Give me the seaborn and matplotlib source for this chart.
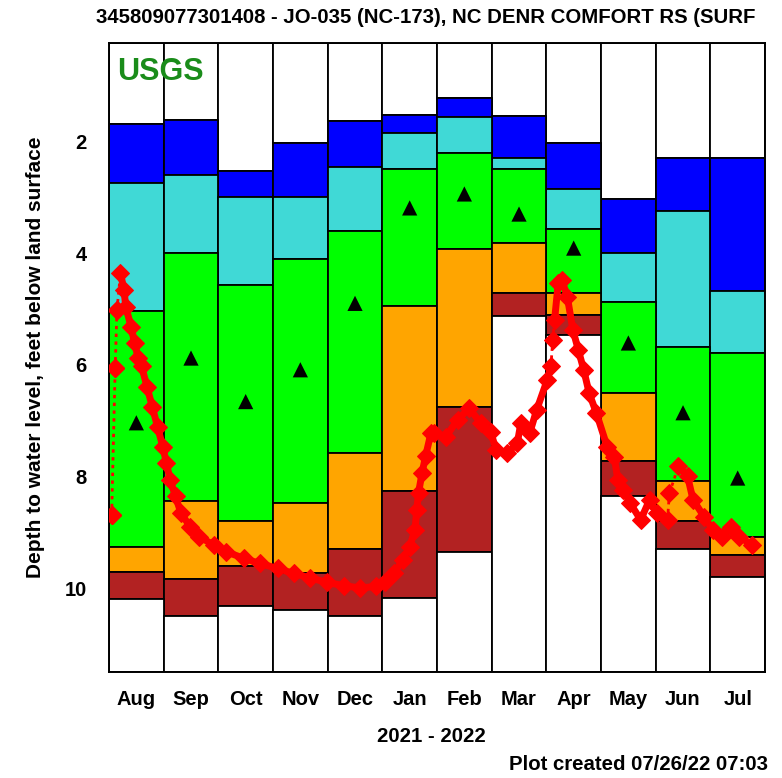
import numpy as np
import pandas as pd
import seaborn as sns
import matplotlib.pyplot as plt

months = ['Aug', 'Sep', 'Oct', 'Nov', 'Dec', 'Jan', 'Feb', 'Mar', 'Apr', 'May', 'Jun', 'Jul']

# monthly percentile bounds, feet below land surface
p_max = [1.69, 1.62, 2.52, 2.02, 1.63, 1.53, 1.22, 1.55, 2.02, 3.03, 2.30, 2.30]
p90 = [2.75, 2.60, 2.99, 2.99, 2.46, 1.85, 1.56, 2.30, 2.85, 4.00, 3.25, 4.67]
p75 = [5.03, 4.00, 4.57, 4.11, 3.61, 2.50, 2.21, 2.49, 3.57, 4.87, 5.68, 5.79]
p25 = [9.27, 8.45, 8.80, 8.48, 7.58, 4.94, 3.93, 3.82, 4.72, 6.51, 8.09, 9.09]
p10 = [9.71, 9.84, 9.60, 9.73, 9.30, 8.26, 6.76, 4.72, 5.11, 7.72, 8.80, 9.41]
p_min = [10.20, 10.50, 10.32, 10.39, 10.50, 10.18, 9.35, 5.12, 5.47, 8.35, 9.30, 9.81]
median = [7.04, 5.88, 6.66, 6.09, 4.90, 3.19, 2.94, 3.30, 3.91, 5.61, 6.86, 8.03]

# daily water levels
wl_dates = ['2021-08-02', '2021-08-04', '2021-08-05', '2021-08-07', '2021-08-09', '2021-08-10',
            '2021-08-13', '2021-08-15', '2021-08-17', '2021-08-19', '2021-08-22', '2021-08-25',
            '2021-08-28', '2021-08-31', '2021-09-02', '2021-09-04', '2021-09-07', '2021-09-10',
            '2021-09-15', '2021-09-20', '2021-09-28', '2021-10-05', '2021-10-15', '2021-10-24',
            '2021-11-03', '2021-11-12', '2021-11-21', '2021-11-30', '2021-12-10', '2021-12-19',
            '2021-12-28', '2022-01-02', '2022-01-07', '2022-01-12', '2022-01-16', '2022-01-19',
            '2022-01-20', '2022-01-21', '2022-01-23', '2022-01-25', '2022-01-28', '2022-01-30',
            '2022-02-05', '2022-02-11', '2022-02-17', '2022-02-23', '2022-02-28', '2022-03-03',
            '2022-03-09', '2022-03-15', '2022-03-17', '2022-03-22', '2022-03-26', '2022-04-01',
            '2022-04-03', '2022-04-04', '2022-04-05', '2022-04-07', '2022-04-09', '2022-04-12',
            '2022-04-15', '2022-04-18', '2022-04-21', '2022-04-24', '2022-04-28', '2022-05-04',
            '2022-05-08', '2022-05-10', '2022-05-13', '2022-05-17', '2022-05-23', '2022-05-28',
            '2022-06-01', '2022-06-07', '2022-06-08', '2022-06-13', '2022-06-18', '2022-06-21',
            '2022-06-27', '2022-07-02', '2022-07-07', '2022-07-12', '2022-07-17', '2022-07-24']
wl_depth = [8.69, 6.06, 5.02, 4.36, 4.66, 4.96,
            5.32, 5.61, 5.88, 6.03, 6.39, 6.75,
            7.11, 7.47, 7.76, 8.06, 8.36, 8.66,
            8.90, 9.08, 9.23, 9.35, 9.47, 9.56,
            9.65, 9.74, 9.82, 9.90, 9.96, 10.00,
            9.97, 9.89, 9.74, 9.50, 9.26, 8.96,
            8.60, 8.30, 7.94, 7.64, 7.23, 7.23,
            7.29, 6.99, 6.78, 7.05, 7.20, 7.53,
            7.59, 7.41, 7.05, 7.23, 6.81, 6.27,
            6.03, 5.55, 5.20, 4.54, 4.48, 4.78,
            5.37, 5.73, 6.09, 6.51, 6.87, 7.47,
            7.65, 8.06, 8.24, 8.48, 8.78, 8.42,
            8.66, 8.78, 8.30, 7.82, 8.00, 8.42,
            8.72, 8.96, 9.08, 8.90, 9.08, 9.23]
# segments ending on these dates are drawn dotted (gaps in record)
dotted_to = ['2021-08-04', '2021-08-05', '2021-08-07', '2022-04-04', '2022-04-05',
             '2022-06-08', '2022-06-13']

sns.set_style('white')
plt.rcParams['font.family'] = ['Liberation Sans', 'DejaVu Sans']
plt.rcParams['text.color'] = 'black'
plt.rcParams['xtick.color'] = 'black'
plt.rcParams['ytick.color'] = 'black'
plt.rcParams['axes.labelcolor'] = 'black'

fig = plt.figure(figsize=(7.82, 7.78), dpi=100)
ax = fig.add_axes([0.1394, 0.1366, 0.8389, 0.8085])

top, bottom = 0.23, 11.5
x = np.arange(12)
bands = [(top, p_max, 'white'), (p_max, p90, '#0000ff'), (p90, p75, '#40d9d6'),
         (p75, p25, '#00ff00'), (p25, p10, '#ffa500'), (p10, p_min, '#b22222'),
         (p_min, bottom, 'white')]
for lo, hi, col in bands:
    lo = np.broadcast_to(np.asarray(lo, dtype=float), (12,))
    hi = np.broadcast_to(np.asarray(hi, dtype=float), (12,))
    ax.bar(x, hi - lo, bottom=lo, width=1.0, color=col, edgecolor='black', linewidth=1.3, zorder=1)

sns.scatterplot(x=x, y=median, marker='^', color='black', s=120, edgecolor='none', zorder=4, ax=ax)

df = pd.DataFrame({'date': pd.to_datetime(wl_dates), 'depth': wl_depth})
idx = (df['date'].dt.year - 2021) * 12 + df['date'].dt.month - 8
df['pos'] = idx - 0.5 + (df['date'].dt.day - 0.5) / df['date'].dt.days_in_month
df['dotted'] = df['date'].isin(pd.to_datetime(dotted_to))

# solid runs
runs = []
cur = [0]
for i in range(1, len(df)):
    if df['dotted'].iloc[i]:
        runs.append(cur)
        cur = [i]
    else:
        cur.append(i)
runs.append(cur)
for r in runs:
    part = df.iloc[r]
    sns.lineplot(x=part['pos'], y=part['depth'], color='red', linewidth=5, marker='D',
                 markersize=9, markeredgecolor='red', sort=False, estimator=None, zorder=5, ax=ax)
for i in range(1, len(df)):
    if df['dotted'].iloc[i]:
        part = df.iloc[i - 1:i + 1]
        ax.plot(part['pos'], part['depth'], color='red', linestyle=(0, (1.2, 1.6)), linewidth=2, zorder=5)
ax.plot(df['pos'].iloc[:3], df['depth'].iloc[:3], 'D', color='red', markersize=9, zorder=5)

ax.set_xlim(-0.5, 11.5)
ax.set_ylim(bottom, top)
ax.set_xticks(x)
ax.set_xticklabels(months)
ax.set_yticks([2, 4, 6, 8, 10])
ax.tick_params(length=0)
ax.tick_params(axis='x', pad=13, labelsize=14.5)
ax.tick_params(axis='y', pad=16, labelsize=14.5)
for lab in ax.get_xticklabels() + ax.get_yticklabels():
    lab.set_fontweight('bold')
ax.set_xlabel('')
ax.set_ylabel('Depth to water level, feet below land surface', fontsize=15, fontweight='bold', labelpad=14)
for s in ax.spines.values():
    s.set_color('black')
    s.set_linewidth(1.4)

ax.text(0.012, 0.977, 'USGS', transform=ax.transAxes, color='#1a8c1a', fontsize=22,
        fontweight='bold', va='top', ha='left', zorder=6)
fig.text(0.544, 0.978, '345809077301408 - JO-035 (NC-173), NC DENR COMFORT RS (SURF',
         ha='center', va='center', fontsize=14.7, fontweight='bold')
fig.text(0.551, 0.053, '2021 - 2022', ha='center', va='center', fontsize=14.7, fontweight='bold')
fig.text(0.982, 0.017, 'Plot created 07/26/22 07:03', ha='right', va='center', fontsize=14.7, fontweight='bold')

fig.savefig('out.png', dpi=100)
